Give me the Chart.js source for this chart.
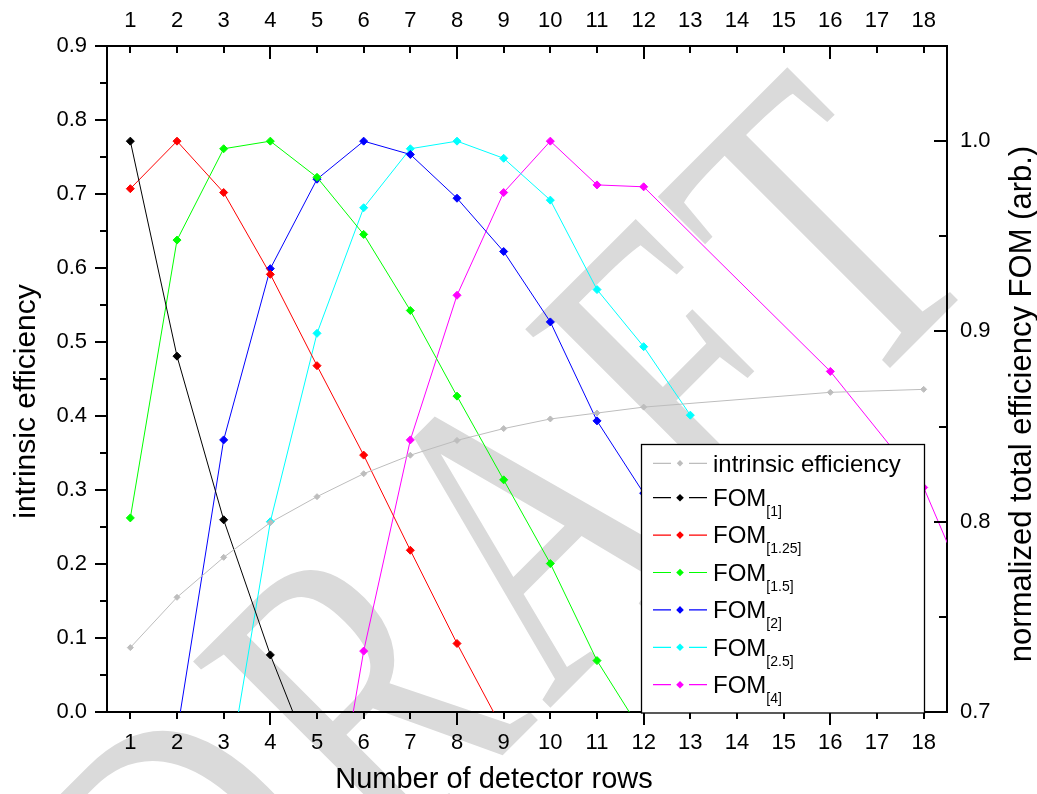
<!DOCTYPE html>
<html>
<head>
<meta charset="utf-8">
<title>Detector rows vs efficiency</title>
<script src="https://cdn.jsdelivr.net/npm/chart.js@4.4.1/dist/chart.umd.min.js"></script>
<style>
  html, body { margin: 0; padding: 0; background: #ffffff; }
  #wrap { width: 1037px; height: 794px; position: relative; }
</style>
</head>
<body>
<div id="wrap"><canvas id="chart"></canvas></div>
<script>
// ---- tick labels ----
const rowTicks = [1, 2, 3, 4, 5, 6, 7, 8, 9, 10, 11, 12, 13, 14, 15, 16, 17, 18];
const rowMajorTicks = [4, 8, 12, 16];
const effTicks = [0.0, 0.1, 0.2, 0.3, 0.4, 0.5, 0.6, 0.7, 0.8, 0.9];
const effMinorTicks = [0.05, 0.15, 0.25, 0.35, 0.45, 0.55, 0.65, 0.75, 0.85];
const fomTicks = [0.7, 0.8, 0.9, 1.0];
const fomMinorTicks = [0.75, 0.85, 0.95];

// ---- intrinsic efficiency (left axis) ----
const intrinsicRows = [1, 2, 3, 4, 5, 6, 7, 8, 9, 10, 11, 12, 16, 18];
const intrinsicEff  = [0.087, 0.155, 0.209, 0.256, 0.291, 0.322, 0.347, 0.367, 0.383, 0.396, 0.404, 0.412, 0.432, 0.436];

// ---- normalized total efficiency FOM (right axis) ----
const fom1Rows = [1, 2, 3, 4, 5];
const fom1     = [1.000, 0.887, 0.801, 0.730, 0.668];

const fom125Rows = [1, 2, 3, 4, 5, 6, 7, 8, 9];
const fom125     = [0.975, 1.000, 0.973, 0.930, 0.882, 0.835, 0.785, 0.736, 0.690];

const fom15Rows = [1, 2, 3, 4, 5, 6, 7, 8, 9, 10, 11, 12];
const fom15     = [0.802, 0.948, 0.996, 1.000, 0.981, 0.951, 0.911, 0.866, 0.822, 0.778, 0.727, 0.688];

const fom2Rows = [2, 3, 4, 5, 6, 7, 8, 9, 10, 11, 12];
const fom2     = [0.689, 0.843, 0.933, 0.980, 1.000, 0.993, 0.970, 0.942, 0.905, 0.853, 0.815];

const fom25Rows = [3, 4, 5, 6, 7, 8, 9, 10, 11, 12, 13];
const fom25     = [0.653, 0.800, 0.899, 0.965, 0.996, 1.000, 0.991, 0.969, 0.922, 0.892, 0.856];

const fom4Rows = [5, 6, 7, 8, 9, 10, 11, 12, 16, 18, 20];
const fom4     = [0.589, 0.732, 0.843, 0.919, 0.973, 1.000, 0.977, 0.976, 0.879, 0.818, 0.703];

// ---- series names ----
const seriesNames = ['intrinsic efficiency', 'FOM', 'FOM', 'FOM', 'FOM', 'FOM', 'FOM'];
const seriesSubs  = ['', '[1]', '[1.25]', '[1.5]', '[2]', '[2.5]', '[4]'];
const seriesColors = ['#bdbdbd', '#000000', '#ff0000', '#00ff00', '#0000ff', '#00ffff', '#ff00ff'];

const FONT = '"Liberation Sans", Arial, Helvetica, sans-serif';

function points(rows, vals) {
  return rows.map((r, i) => ({ x: r, y: vals[i] }));
}

function series(idx, rows, vals, axis, radius) {
  return {
    label: seriesNames[idx],
    sub: seriesSubs[idx],
    data: points(rows, vals),
    yAxisID: axis,
    xAxisID: 'x',
    borderColor: seriesColors[idx],
    backgroundColor: seriesColors[idx],
    borderWidth: 1,
    pointStyle: 'rectRot',
    pointRadius: radius,
    pointBorderWidth: 1,
    pointBackgroundColor: seriesColors[idx],
    pointBorderColor: seriesColors[idx],
    tension: 0,
    fill: false
  };
}

const datasets = [
  series(0, intrinsicRows, intrinsicEff, 'y', 3),
  series(1, fom1Rows, fom1, 'y2', 4),
  series(2, fom125Rows, fom125, 'y2', 4),
  series(3, fom15Rows, fom15, 'y2', 4),
  series(4, fom2Rows, fom2, 'y2', 4),
  series(5, fom25Rows, fom25, 'y2', 4),
  series(6, fom4Rows, fom4, 'y2', 4)
];

// Big diagonal "DRAFT" stamp behind everything
const draftStamp = {
  id: 'draftStamp',
  beforeDraw(chart) {
    const ctx = chart.ctx;
    ctx.save();
    ctx.translate(216, 1042);
    ctx.rotate(-Math.PI / 4);
    ctx.scale(1, 1.37);
    ctx.font = '318px "Liberation Serif", "Times New Roman", serif';
    if ('letterSpacing' in ctx) ctx.letterSpacing = '14px';
    ctx.fillStyle = 'rgb(218,218,218)';
    ctx.textBaseline = 'alphabetic';
    ctx.textAlign = 'left';
    ctx.fillText('DRAFT', 0, 0);
    ctx.restore();
  }
};

// Tick marks: bottom/left point outward, top/right point inward
const tickMarks = {
  id: 'tickMarks',
  afterDraw(chart) {
    const ctx = chart.ctx;
    const a = chart.chartArea;
    const sx = chart.scales.x, sy = chart.scales.y, sy2 = chart.scales.y2;
    ctx.save();
    ctx.strokeStyle = '#000';
    ctx.lineWidth = 2;
    ctx.beginPath();
    rowTicks.forEach(v => {
      const px = Math.round(sx.getPixelForValue(v));
      const len = rowMajorTicks.includes(v) ? 13 : 7;
      ctx.moveTo(px, a.bottom); ctx.lineTo(px, a.bottom + len);
      ctx.moveTo(px, a.top); ctx.lineTo(px, a.top + len);
    });
    effTicks.forEach(v => {
      const py = Math.round(sy.getPixelForValue(v));
      ctx.moveTo(a.left, py); ctx.lineTo(a.left - 12, py);
    });
    effMinorTicks.forEach(v => {
      const py = Math.round(sy.getPixelForValue(v));
      ctx.moveTo(a.left, py); ctx.lineTo(a.left - 7, py);
    });
    fomTicks.forEach(v => {
      const py = Math.round(sy2.getPixelForValue(v));
      ctx.moveTo(a.right, py); ctx.lineTo(a.right - 13, py);
    });
    fomMinorTicks.forEach(v => {
      const py = Math.round(sy2.getPixelForValue(v));
      ctx.moveTo(a.right, py); ctx.lineTo(a.right - 8, py);
    });
    ctx.stroke();
    ctx.restore();
  }
};

// Axis titles (both vertical titles read bottom-to-top)
const axisTitles = {
  id: 'axisTitles',
  afterDraw(chart) {
    const ctx = chart.ctx;
    ctx.save();
    ctx.fillStyle = '#000';
    ctx.textBaseline = 'alphabetic';
    ctx.textAlign = 'center';

    ctx.font = '29px ' + FONT;
    ctx.fillText('Number of detector rows', 494, 788);

    ctx.save();
    ctx.translate(35, 401.5);
    ctx.rotate(-Math.PI / 2);
    ctx.font = '30px ' + FONT;
    ctx.fillText('intrinsic efficiency', 0, 0);
    ctx.restore();

    ctx.save();
    ctx.translate(1031, 404);
    ctx.rotate(-Math.PI / 2);
    ctx.font = '31px ' + FONT;
    ctx.fillText('normalized total efficiency FOM (arb.)', 0, 0);
    ctx.restore();

    ctx.restore();
  }
};

// Boxed legend with subscripted FOM labels
const boxedLegend = {
  id: 'boxedLegend',
  afterDraw(chart) {
    const ctx = chart.ctx;
    const a = chart.chartArea;
    const left = a.left + 534, top = a.top + 398, right = a.left + 817, bottom = a.bottom + 1;
    ctx.save();
    ctx.fillStyle = '#fff';
    ctx.fillRect(left, top, right - left, bottom - top);
    ctx.strokeStyle = '#000';
    ctx.lineWidth = 1.3;
    ctx.strokeRect(left + 0.5, top + 0.5, right - left, bottom - top - 0.5);

    chart.data.datasets.forEach((ds, i) => {
      const y = i === 0 ? top + 19.3 : top + 53.7 + 37.4 * (i - 1);
      const mx = left + 39;
      ctx.strokeStyle = ds.borderColor;
      ctx.lineWidth = 1.2;
      ctx.beginPath();
      ctx.moveTo(left + 12, y); ctx.lineTo(left + 30, y);
      ctx.moveTo(left + 48, y); ctx.lineTo(left + 66, y);
      ctx.stroke();
      const r = i === 0 ? 3.2 : 3.8;
      ctx.fillStyle = ds.borderColor;
      ctx.beginPath();
      ctx.moveTo(mx, y - r); ctx.lineTo(mx + r, y); ctx.lineTo(mx, y + r); ctx.lineTo(mx - r, y);
      ctx.closePath();
      ctx.fill();

      const tx = left + 72;
      const base = y + 8.2;
      ctx.fillStyle = '#000';
      ctx.textAlign = 'left';
      ctx.textBaseline = 'alphabetic';
      ctx.font = '24px ' + FONT;
      ctx.fillText(ds.label, tx, base);
      if (ds.sub) {
        const w = ctx.measureText(ds.label).width;
        ctx.font = '14px ' + FONT;
        ctx.fillText(ds.sub, tx + w, base + 10);
      }
    });
    ctx.restore();
  }
};

const tickFont = { family: FONT, size: 22 };

new Chart(document.getElementById('chart'), {
  type: 'line',
  data: { datasets },
  options: {
    responsive: true,
    maintainAspectRatio: false,
    animation: false,
    layout: { padding: 0 },
    plugins: { legend: { display: false }, tooltip: { enabled: false } },
    scales: {
      x: {
        type: 'linear', position: 'bottom', min: 0.5, max: 18.5,
        afterBuildTicks: s => { s.ticks = rowTicks.map(v => ({ value: v })); },
        afterFit: s => { s.height = 82; },
        grid: { display: false, drawTicks: false },
        border: { display: true, color: '#000', width: 2 },
        ticks: { padding: 18, font: tickFont, color: '#000', maxRotation: 0, autoSkip: false,
                 callback: v => String(v) }
      },
      xTop: {
        type: 'linear', position: 'top', min: 0.5, max: 18.5,
        afterBuildTicks: s => { s.ticks = rowTicks.map(v => ({ value: v })); },
        afterFit: s => { s.height = 46; },
        grid: { display: false, drawTicks: false },
        border: { display: true, color: '#000', width: 2 },
        ticks: { padding: 12, font: tickFont, color: '#000', maxRotation: 0, autoSkip: false,
                 callback: v => String(v) }
      },
      y: {
        type: 'linear', position: 'left', min: 0, max: 0.9,
        afterBuildTicks: s => { s.ticks = effTicks.map(v => ({ value: v })); },
        afterFit: s => { s.width = 107; },
        grid: { display: false, drawTicks: false },
        border: { display: true, color: '#000', width: 2 },
        ticks: { padding: 20, font: tickFont, color: '#000', autoSkip: false,
                 callback: v => Number(v).toFixed(1) }
      },
      y2: {
        type: 'linear', position: 'right', min: 0.7, max: 1.05,
        afterBuildTicks: s => { s.ticks = fomTicks.map(v => ({ value: v })); },
        afterFit: s => { s.width = 90; },
        grid: { display: false, drawTicks: false },
        border: { display: true, color: '#000', width: 2 },
        ticks: { padding: 13, font: tickFont, color: '#000', autoSkip: false,
                 callback: v => Number(v).toFixed(1) }
      }
    }
  },
  plugins: [draftStamp, tickMarks, axisTitles, boxedLegend]
});
</script>
</body>
</html>
